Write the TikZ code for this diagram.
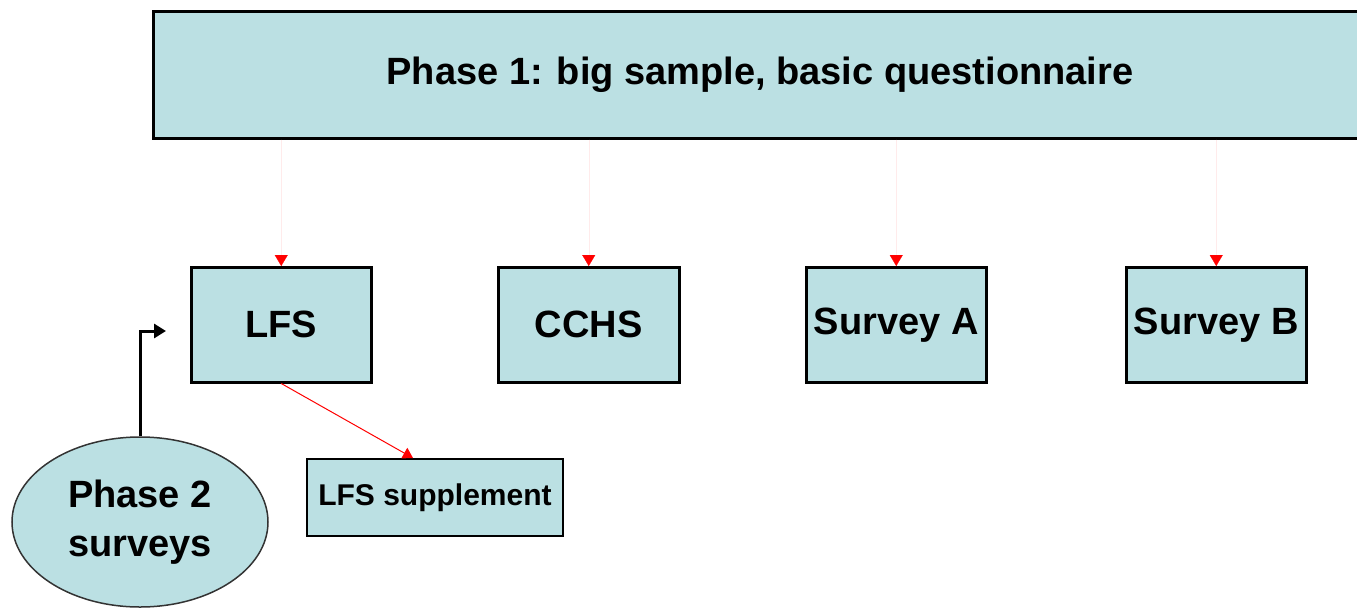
\documentclass[tikz,border=0pt]{standalone}
\usepackage{fontspec}
\setmainfont{Liberation Sans}
\usetikzlibrary{arrows.meta,shapes.geometric}
\definecolor{boxblue}{HTML}{BBE0E3}
\tikzset{
  sbox/.style={draw=black,line width=2.5pt,fill=boxblue,inner sep=0pt,font=\fontsize{38}{40}\selectfont\bfseries},
  redarrow/.style={draw=red!8,line width=0.2pt,-{Triangle[width=13pt,length=11pt,color=red]}},
}
\begin{document}
\begin{tikzpicture}[x=1pt,y=-1pt]
\useasboundingbox (0,0) rectangle (1357,608);
\clip (0,0) rectangle (1357,608);
\node[sbox,minimum width=1220pt,minimum height=127pt,anchor=north west] (p1) at (152,10) {};
\node[font=\fontsize{38}{40}\selectfont\bfseries] (p1t) at (760,75) {Phase 1: big sample, basic questionnaire};
\node[sbox,minimum width=180pt,minimum height=115pt,anchor=north west] (lfs) at (190,266) {};
\node[font=\fontsize{38}{40}\selectfont\bfseries] at (lfs.center) {LFS};
\node[sbox,minimum width=181pt,minimum height=115pt,anchor=north west] (cchs) at (497,266) {};
\node[font=\fontsize{38}{40}\selectfont\bfseries] at (cchs.center) {CCHS};
\node[sbox,minimum width=180pt,minimum height=115pt,anchor=north west] (sa) at (805,266) {};
\node[font=\fontsize{38}{40}\selectfont\bfseries] at (sa.center) {Survey A};
\node[sbox,minimum width=180pt,minimum height=115pt,anchor=north west] (sb) at (1125,266) {};
\node[font=\fontsize{38}{40}\selectfont\bfseries] at (sb.center) {Survey B};
\node[sbox,line width=2pt,minimum width=256pt,minimum height=77pt,anchor=north west] (sup) at (306,458) {};
\node[font=\fontsize{30}{32}\selectfont\bfseries] at (sup.center) {LFS supplement};
\node[draw=black!80,line width=1.5pt,fill=boxblue,ellipse,minimum width=256pt,minimum height=170pt,inner sep=0pt,align=center,font=\fontsize{38}{49}\selectfont\bfseries] (p2) at (140,522) {Phase 2\\surveys};
\coordinate (lfsin) at (166,331);
\draw[redarrow] (p1.south -| lfs.north) -- (lfs.north);
\draw[redarrow] (p1.south -| cchs.north) -- (cchs.north);
\draw[redarrow] (p1.south -| sa.north) -- (sa.north);
\draw[redarrow] (p1.south -| sb.north) -- (sb.north);
\draw[red,line width=1pt,-{Triangle[width=12pt,length=10pt]}] (lfs.south) -- (413,458);
\draw[black,line width=3pt,-{Triangle[width=14pt,length=12pt]}] (p2.north) |- (lfsin);
\end{tikzpicture}
\end{document}
